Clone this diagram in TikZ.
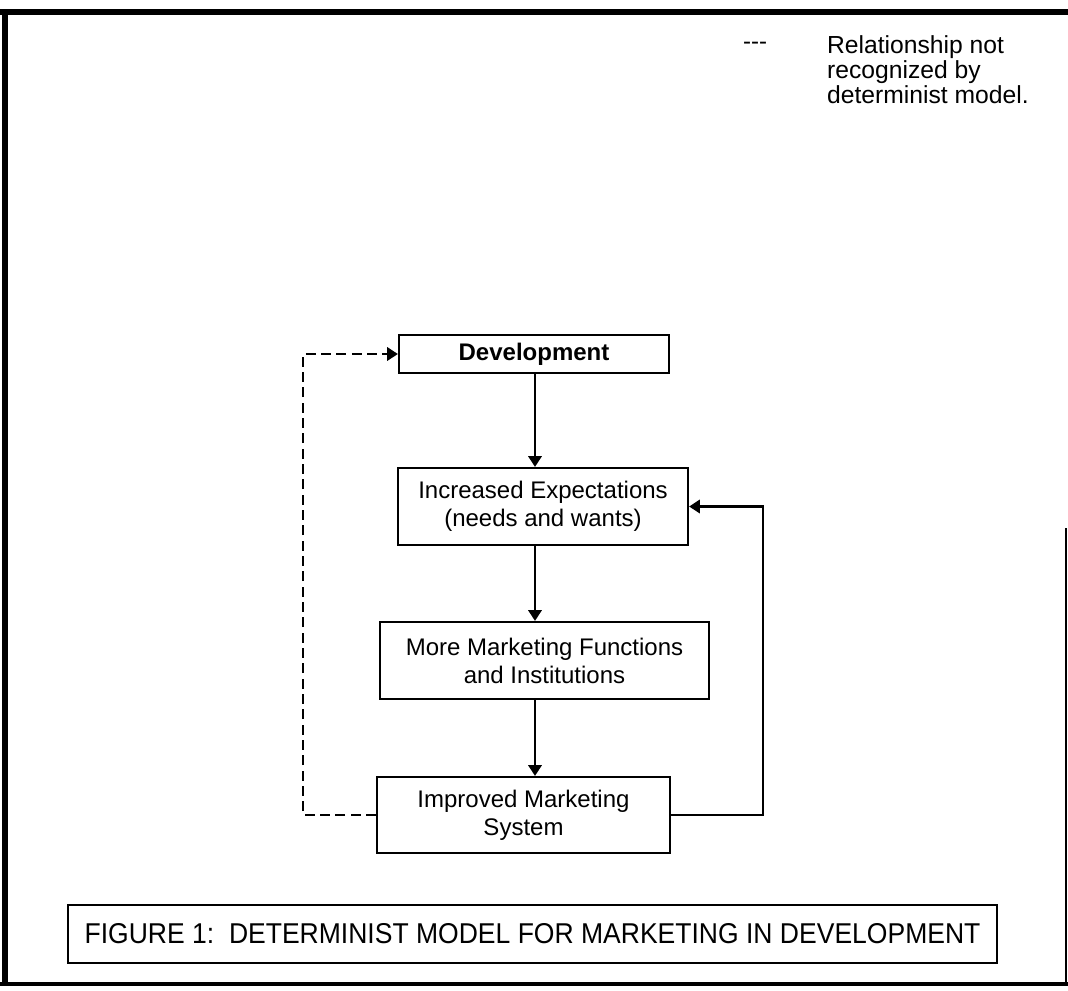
\documentclass[tikz,border=0pt]{standalone}
\usepackage{fontspec}
\setmainfont{Liberation Sans}
\newfontfamily\captionfont[FakeStretch=0.925]{Liberation Sans}
\usetikzlibrary{positioning,arrows.meta}

\begin{document}
\begin{tikzpicture}[
    x = 0.75pt,
    y = -0.75pt,
    > = {Triangle[length=8pt,width=10pt]},
    line width = 1.7pt,
    font = \fontsize{18}{21}\selectfont,
    box/.style={rectangle, draw, align=center, inner sep=2pt},
    flow/.style={->},
    feedback/.style={->, dash pattern=on 7.5pt off 4pt}
]
    \useasboundingbox (0,0) rectangle (1068,990);
    % outer frame
    \draw[line width=5pt] (0,12) -- (1068,12);
    \draw[line width=4pt] (5,12) -- (5,984);
    \draw[line width=3pt] (0,984) -- (1068,984);
    \draw[line width=1.2pt] (1066,528) -- (1066,984);

    % legend
    \node (dashkey) at (755,46) {-{}-{}-};
    \node[anchor=north west, align=left, inner sep=0pt, font=\fontsize{18.5}{19}\selectfont] (legend) at (826,34)
        {Relationship not\\recognized by\\determinist model.};

    % boxes
    \node[box, minimum width=202.5pt, minimum height=28.5pt, font=\fontsize{18}{21}\selectfont\bfseries] (dev) at (534,354) {Development};
    \node[box, minimum width=217.5pt, minimum height=57.75pt] (exp) at (543,506.5) {Increased Expectations\\(needs and wants)};
    \node[box, minimum width=246.75pt, minimum height=57.75pt] (func) at (544.5,660.5) {More Marketing Functions\\and Institutions};
    \node[box, minimum width=219.75pt, minimum height=57pt] (sys) at (523.5,815) {Improved Marketing\\System};

    % caption
    \node[box, minimum width=696.75pt, minimum height=43.5pt, font=\fontsize{21.5}{24}\captionfont] (title) at (532.5,934)
        {FIGURE 1:\ \ DETERMINIST MODEL FOR MARKETING IN DEVELOPMENT};

    % connectors
    \coordinate (dl) at (303,815);
    \coordinate (rl) at (763,815);
    \draw[flow] (dev.south -| 535,0) -- (exp.north -| 535,0);
    \draw[flow] (exp.south -| 535,0) -- (func.north -| 535,0);
    \draw[flow] (func.south -| 535,0) -- (sys.north -| 535,0);
    \draw[feedback] (sys.west) -- (dl) |- (dev.west);
    \draw[flow] (sys.east) -- (rl) |- (exp.east);
\end{tikzpicture}
\end{document}
